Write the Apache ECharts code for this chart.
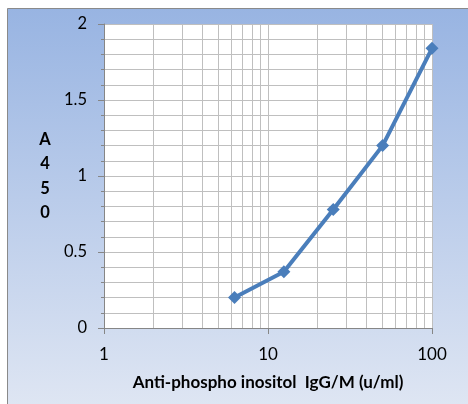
<!DOCTYPE html>
<html><head><meta charset="utf-8">
<script src="https://cdn.jsdelivr.net/npm/echarts@6/dist/echarts.min.js"></script>
<style>html,body{margin:0;padding:0;background:#fff}#c{width:468px;height:404px}</style>
</head><body><div id="c"></div>
<script>
var concentrations = [6.25, 12.5, 25, 50, 100];
var absorbance = [0.2, 0.37, 0.78, 1.2, 1.84];
var minorXGrid = [2, 3, 4, 5, 6, 7, 8, 9, 20, 30, 40, 50, 60, 70, 80, 90];
var xTitle = 'Anti-phospho inositol  IgG/M (u/ml)';
var yTitle = 'A\n4\n5\n0';

var FONT = 'Lato, "Open Sans", sans-serif';
var chart = echarts.init(document.getElementById('c'));
chart.setOption({
  animation: false,
  graphic: [{
    type: 'rect', z: -10, silent: true,
    shape: { x: 7.5, y: 8.5, width: 470, height: 400 },
    style: {
      fill: new echarts.graphic.LinearGradient(0, 0, 0, 1, [
        { offset: 0, color: '#98b4e2' },
        { offset: 1, color: '#dfe6f3' }
      ]),
      stroke: '#8a8a8a', lineWidth: 1
    }
  }],
  grid: { left: 104, right: 36, top: 24, bottom: 76, show: true, backgroundColor: '#ffffff', borderWidth: 0 },
  xAxis: {
    type: 'log', logBase: 10, min: 1, max: 100,
    name: xTitle, nameLocation: 'middle', nameGap: 46,
    nameTextStyle: { fontFamily: FONT, fontWeight: 'bold', fontSize: 17, color: '#000' },
    axisLine: { lineStyle: { color: '#868686', width: 1 } },
    axisTick: { show: true, length: 6, lineStyle: { color: '#868686' } },
    axisLabel: { fontFamily: FONT, fontSize: 17, color: '#000', margin: 18 },
    splitLine: { show: true, lineStyle: { color: '#bfbfbf', width: 1 } }
  },
  yAxis: {
    type: 'value', min: 0, max: 2, interval: 0.5,
    name: yTitle, nameLocation: 'middle', nameGap: 59, nameRotate: 0,
    nameTextStyle: { fontFamily: FONT, fontWeight: 'bold', fontSize: 16.5, color: '#000', lineHeight: 24.5, align: 'center' },
    axisLine: { show: true, lineStyle: { color: '#868686', width: 1 } },
    axisTick: { show: true, length: 6, lineStyle: { color: '#868686' } },
    minorTick: { show: true, splitNumber: 5, length: 3, lineStyle: { color: '#868686' } },
    axisLabel: { fontFamily: FONT, fontSize: 16.5, color: '#000', margin: 17 },
    splitLine: { show: true, lineStyle: { color: '#bfbfbf', width: 1 } },
    minorSplitLine: { show: true, lineStyle: { color: '#bfbfbf', width: 1 } }
  },
  series: [{
    type: 'line', z: 1, data: [], silent: true,
    markLine: {
      silent: true, symbol: ['none', 'none'], animation: false,
      label: { show: false },
      lineStyle: { color: '#bfbfbf', width: 1, type: 'solid' },
      emphasis: { disabled: true },
      data: minorXGrid.map(function (v) { return { xAxis: v }; })
    }
  }, {
    type: 'line', z: 5,
    data: concentrations.map(function (c, i) { return [c, absorbance[i]]; }),
    symbol: 'diamond', symbolSize: 13,
    lineStyle: { color: '#4a7ebb', width: 4 },
    itemStyle: { color: '#4a7ebb' }
  }]
});
</script></body></html>
